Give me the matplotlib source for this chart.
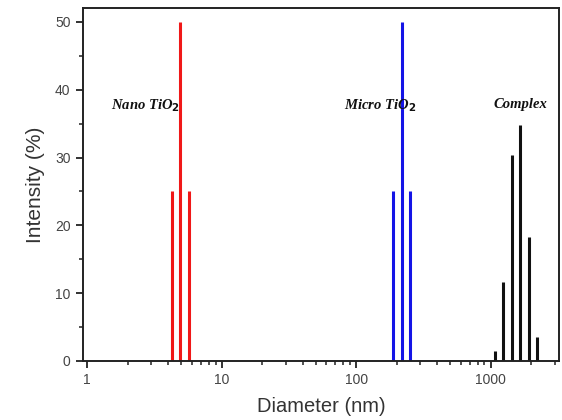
import matplotlib
matplotlib.use("Agg")
import matplotlib.pyplot as plt
from matplotlib.ticker import LogLocator, MultipleLocator, NullFormatter, FixedLocator, FixedFormatter

nano_d = [4.26, 4.91, 5.73]
nano_i = [25, 50, 25]
micro_d = [187.5, 218.8, 250.7]
micro_i = [25, 50, 25]
complex_d = [1074, 1233, 1438, 1656, 1923, 2205]
complex_i = [1.5, 11.7, 30.4, 34.8, 18.3, 3.6]
xticks = [1, 10, 100, 1000]
xticklabels = ["1", "10", "100", "1000"]
yticks = [0, 10, 20, 30, 40, 50]

plt.rcParams['font.family'] = ['Liberation Sans', 'DejaVu Sans']
fig = plt.figure(figsize=(5.62, 4.2), dpi=100)
ax = fig.add_axes([83/562, 1-361/420, (559-83)/562, (361-8)/420])
ax.set_xscale('log')
ax.set_xlim(0.93, 3230)
ax.set_ylim(0, 52.05)

lw = 2.2
ax.vlines(nano_d, 0, nano_i, colors='#f01818', linewidth=lw)
ax.vlines(micro_d, 0, micro_i, colors='#1414e6', linewidth=lw)
ax.vlines(complex_d, 0, complex_i, colors='#111111', linewidth=lw)

ax.xaxis.set_major_locator(FixedLocator(xticks))
ax.xaxis.set_major_formatter(FixedFormatter(xticklabels))
ax.xaxis.set_minor_locator(LogLocator(base=10, subs=range(2, 10)))
ax.xaxis.set_minor_formatter(NullFormatter())
ax.set_yticks(yticks)
ax.yaxis.set_minor_locator(MultipleLocator(5))

ax.tick_params(which='both', direction='out', top=False, right=False, colors='#222222', labelcolor='#444444')
ax.tick_params(which='major', length=5, width=1.3, labelsize=10, pad=4)
ax.tick_params(which='minor', length=3, width=1.1)
for s in ax.spines.values():
    s.set_linewidth(1.4)
    s.set_color('#222222')

ax.set_xlabel('Diameter (nm)', fontsize=14.5, color='#333333', labelpad=7)
ax.set_ylabel('Intensity (%)', fontsize=15, color='#333333', labelpad=7)

tkw = dict(fontsize=10.5, fontweight='bold', fontstyle='italic', family=['Liberation Serif', 'DejaVu Serif'],
           ha='center', va='center', color='#111111')
ax.text(2.72, 37.6, r'Nano TiO$_\mathbf{2}$', **tkw)
ax.text(150, 37.6, r'Micro TiO$_\mathbf{2}$', **tkw)
ax.text(1680, 37.8, 'Complex', **tkw)

fig.savefig('out.png', dpi=100)
